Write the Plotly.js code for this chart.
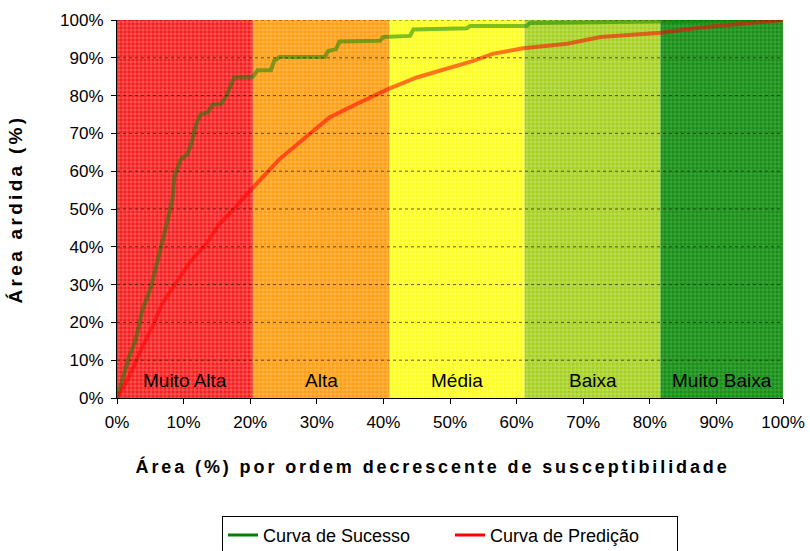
<!DOCTYPE html>
<html>
<head>
<meta charset="utf-8">
<script src="https://cdn.plot.ly/plotly-3.0.1.min.js"></script>
<style>
html,body{margin:0;padding:0;background:#fff;}
#chart{width:810px;height:551px;}
.annotation[data-index="5"] text{letter-spacing:2.9px;}
.ytitle{letter-spacing:3.3px;}
</style>
</head>
<body>
<div id="chart"></div>
<script>
// Susceptibility zones (x boundaries in % of area)
const zoneNames = ["Muito Alta", "Alta", "Média", "Baixa", "Muito Baixa"];
const zoneStart = [0, 20.4, 40.9, 61.2, 81.6];
const zoneEnd = [20.4, 40.9, 61.2, 81.6, 100];
const zoneColors = ["#F51E1E", "#FF9E14", "#FFFF14", "#A6D01E", "#1A8C1A"];
const zoneLines = ["#FF8C8C", "#FFC878", "#FFFFA0", "#CDE88C", "#55BB55"];

// Curva de Sucesso
const succX = [0, 0.8, 1.8, 2.8, 3.8, 5.1, 6.3, 7.1, 8.3, 8.6, 9.3, 9.6, 10.6, 11.3, 11.6, 12.1, 12.6, 13.6, 14.4, 15.6, 16.4, 16.9, 17.6, 20.4, 20.9, 21.1, 23.1, 23.6, 24.4, 31.2, 31.7, 32.9, 33.4, 39.5, 40.0, 44.0, 44.5, 52.5, 53.0, 61.5, 62.0, 81.6, 100];
const succY = [0, 4.7, 10.9, 15.3, 23.2, 29.4, 37.3, 43.4, 52.2, 58.4, 61.9, 63.2, 64.5, 68.1, 70.7, 73.4, 75.1, 75.5, 77.7, 77.7, 79.9, 81.7, 84.8, 85.0, 86.1, 86.7, 86.7, 89.2, 90.2, 90.2, 91.8, 92.3, 94.3, 94.5, 95.5, 95.8, 97.5, 97.8, 98.4, 98.4, 99.2, 99.5, 100];

// Curva de Predição
const predX = [0, 1.8, 3.8, 5.3, 6.8, 8.8, 10.6, 11.8, 13.4, 15.4, 17.4, 18.6, 20.4, 24.4, 25.9, 28.4, 31.9, 35.9, 40.7, 45.0, 49.5, 53.5, 56.5, 61.0, 67.6, 72.6, 81.6, 87.7, 92.6, 100];
const predY = [0, 5.6, 13.5, 18.8, 25.0, 30.3, 35.1, 37.7, 40.8, 46.1, 49.6, 52.2, 55.7, 63.2, 65.4, 69.0, 74.2, 77.7, 81.7, 84.8, 87.0, 89.2, 91.1, 92.5, 93.7, 95.5, 96.6, 98.0, 98.8, 100];

const xTicks = [0, 10, 20, 30, 40, 50, 60, 70, 80, 90, 100];
const yTicks = [0, 10, 20, 30, 40, 50, 60, 70, 80, 90, 100];

const seriesNames = ["Curva de Sucesso", "Curva de Predição"];
const seriesColors = ["#008000", "#FF0000"];
const xTitle = "Área (%) por ordem decrescente de susceptibilidade";
const yTitle = "Área ardida (%)";

const zoneCenter = zoneStart.map((s, i) => (s + zoneEnd[i]) / 2);
const zoneWidth = zoneStart.map((s, i) => zoneEnd[i] - s);

const FONT = "Liberation Sans, Arial, sans-serif";

const traces = [];
zoneNames.forEach((n, i) => {
  traces.push({
    type: "bar",
    x: [zoneCenter[i]],
    y: [100],
    width: [zoneWidth[i]],
    base: 0,
    name: n,
    marker: {
      color: zoneColors[i],
      line: {width: 0},
      pattern: {shape: "+", bgcolor: zoneColors[i], fgcolor: zoneLines[i], fgopacity: 1,
        size: 4, solidity: 0.25, fillmode: "overlay"}
    },
    hoverinfo: "skip",
    showlegend: false
  });
});
traces.push({
  type: "scatter", mode: "lines", x: succX, y: succY,
  line: {color: seriesColors[0], width: 4}, opacity: 0.5, showlegend: false
});
traces.push({
  type: "scatter", mode: "lines", x: predX, y: predY,
  line: {color: seriesColors[1], width: 4}, opacity: 0.55, showlegend: false
});
seriesNames.forEach((n, i) => {
  traces.push({type: "scatter", mode: "lines", x: [null], y: [null], name: n,
    line: {color: seriesColors[i], width: 3}, showlegend: true});
});

const shapes = yTicks.filter(v => v > 0).map(v => ({
  type: "line", xref: "x", yref: "y", x0: 0, x1: 100, y0: v, y1: v,
  line: {color: "rgba(40,30,0,0.7)", width: 1, dash: "dot"}, layer: "above"
}));

const annotations = zoneNames.map((n, i) => ({
  x: zoneCenter[i], y: 4.5, xref: "x", yref: "y", text: n, showarrow: false,
  font: {family: FONT, size: 19, color: "#000"}
}));
// x-axis title placed below the tick labels (plot area spans pixels 20..398)
annotations.push({
  x: 0.473, xref: "paper", y: (398 - 466) / 378, yref: "paper",
  xanchor: "center", yanchor: "middle", text: xTitle, showarrow: false,
  font: {family: FONT, size: 18, color: "#000", weight: "bold"}
});

const layout = {
  width: 810, height: 551,
  margin: {l: 117, r: 27, t: 20, b: 153},
  paper_bgcolor: "#fff", plot_bgcolor: "#fff",
  barmode: "group",
  xaxis: {
    range: [0, 100], tickvals: xTicks, ticktext: xTicks.map(v => v + "%"),
    ticks: "outside", ticklen: 5, tickcolor: "#000", showgrid: false, zeroline: false,
    showline: true, linecolor: "#000", linewidth: 1, automargin: false,
    ticklabelstandoff: 4,
    tickfont: {family: FONT, size: 17, color: "#000"}
  },
  yaxis: {
    range: [0, 100], tickvals: yTicks, ticktext: yTicks.map(v => v + "%"),
    ticks: "outside", ticklen: 5, tickcolor: "#000", showgrid: false, zeroline: false,
    showline: true, linecolor: "#000", linewidth: 1, automargin: false,
    ticklabelstandoff: 4,
    tickfont: {family: FONT, size: 17, color: "#000"},
    title: {text: yTitle, standoff: 32,
      font: {family: FONT, size: 19, color: "#000", weight: "bold"}}
  },
  legend: {
    orientation: "h", x: 0.5, xanchor: "center", xref: "paper",
    y: 0.064, yanchor: "top", yref: "container",
    bordercolor: "#000", borderwidth: 1, bgcolor: "#fff",
    entrywidth: 182, entrywidthmode: "pixels",
    font: {family: FONT, size: 18, color: "#000"}
  },
  shapes: shapes,
  annotations: annotations,
  showlegend: true
};

Plotly.newPlot("chart", traces, layout, {displayModeBar: false, staticPlot: true});
</script>
</body>
</html>
